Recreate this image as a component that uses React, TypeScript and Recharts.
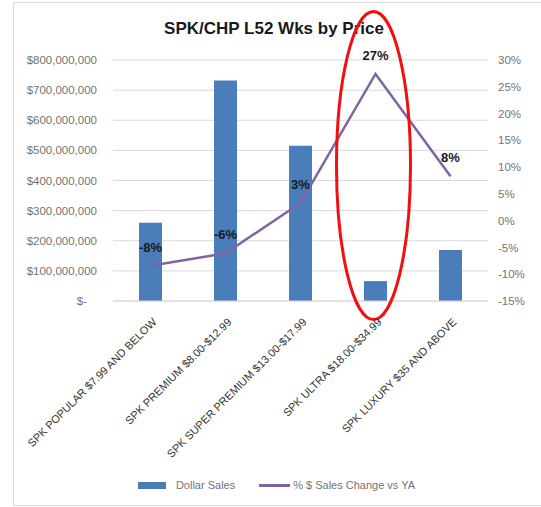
import React from "react";
import {
  ComposedChart,
  Bar,
  Line,
  XAxis,
  YAxis,
  CartesianGrid,
  Legend,
  LabelList,
  ReferenceDot,
} from "recharts";

const categories = [
  "SPK POPULAR $7.99 AND BELOW",
  "SPK PREMIUM $8.00-$12.99",
  "SPK SUPER PREMIUM $13.00-$17.99",
  "SPK ULTRA $18.00-$34.99",
  "SPK LUXURY $35 AND ABOVE",
];
const dollarSales = [260000000, 732000000, 515000000, 66000000, 169000000];
const pctChange = [-8.4, -6.1, 3.3, 27.4, 8.3];

const usdTicks = [0, 100000000, 200000000, 300000000, 400000000, 500000000, 600000000, 700000000, 800000000];
const pctTicks = [-15, -10, -5, 0, 5, 10, 15, 20, 25, 30];

// red highlight ellipse around the ultra segment
const highlightCategory = categories[3];
const highlightCenterPct = 10.3;

const data = categories.map((name, i) => ({
  name,
  sales: dollarSales[i],
  pct: pctChange[i],
}));

const FONT = "'Liberation Sans', Arial, sans-serif";
const BAR_COLOR = "#4a7ebb";
const LINE_COLOR = "#8064a2";
const TICK_GRAY = "#737373";

const formatUsd = (v: number) =>
  v === 0 ? "$-" : "$" + v.toLocaleString("en-US");

const LeftTick = ({ x, y, payload }: any) => (
  <text
    x={payload.value === 0 ? x - 10 : x}
    y={y}
    dy="0.35em"
    textAnchor="end"
    fontSize={11.5}
    fill={TICK_GRAY}
    fontFamily={FONT}
  >
    {formatUsd(payload.value)}
  </text>
);

const XTick = ({ x, y, payload }: any) => (
  <g transform={`translate(${x + 4},${y + 19}) rotate(-45)`}>
    <text
      x={0}
      y={0}
      dy="0.35em"
      textAnchor="end"
      fontSize={11}
      fill="#333333"
      fontFamily={FONT}
    >
      {payload.value}
    </text>
  </g>
);

const renderPctLabel = (props: any) => {
  const { x, y, value } = props;
  return (
    <text
      x={x}
      y={y - 14}
      textAnchor="middle"
      fontSize={13}
      fontWeight="bold"
      fill="#1a1a1a"
      fontFamily={FONT}
    >
      {Math.round(value)}%
    </text>
  );
};

const renderLegend = () => (
  <div
    style={{
      display: "flex",
      justifyContent: "center",
      alignItems: "center",
      paddingLeft: 12,
      height: 16,
      fontSize: 11,
      color: TICK_GRAY,
      fontFamily: FONT,
    }}
  >
    <span style={{ width: 28, height: 7, background: BAR_COLOR, marginRight: 10 }} />
    <span style={{ marginRight: 24 }}>Dollar Sales</span>
    <span style={{ width: 31, height: 3, background: LINE_COLOR, marginRight: 3 }} />
    <span>% $ Sales Change vs YA</span>
  </div>
);

export default function App() {
  return (
    <div
      style={{
        position: "absolute",
        left: 0,
        top: 0,
        width: 541,
        height: 507,
        overflow: "hidden",
        background: "#fff",
        fontFamily: FONT,
      }}
    >
      <div
        style={{
          position: "absolute",
          left: 13,
          top: 2,
          width: 560,
          height: 504,
          border: "1px solid #d9d9d9",
          boxSizing: "border-box",
        }}
      />
      <div
        style={{
          position: "absolute",
          left: 0,
          top: 19,
          width: 548,
          textAlign: "center",
          fontSize: 17,
          fontWeight: "bold",
          color: "#1a1a1a",
        }}
      >
        SPK/CHP L52 Wks by Price
      </div>
      <div style={{ position: "absolute", left: 0, top: 0 }}>
        <ComposedChart
          width={541}
          height={507}
          data={data}
          margin={{ top: 60, right: 0, bottom: 14, left: 0 }}
        >
          <CartesianGrid vertical={false} stroke="#d9d9d9" yAxisId="usd" />
          <XAxis
            dataKey="name"
            interval={0}
            tickLine={false}
            axisLine={{ stroke: "#d9d9d9" }}
            tickSize={0}
            tickMargin={0}
            height={176}
            tick={<XTick />}
          />
          <YAxis
            yAxisId="usd"
            orientation="left"
            domain={[0, 800000000]}
            ticks={usdTicks}
            width={113}
            axisLine={false}
            tickLine={false}
            tickSize={0}
            tickMargin={16}
            tick={<LeftTick />}
          />
          <YAxis
            yAxisId="pct"
            orientation="right"
            domain={[-15, 30]}
            ticks={pctTicks}
            width={53}
            axisLine={false}
            tickLine={false}
            tickSize={0}
            tickMargin={10}
            tickFormatter={(v: number) => `${v}%`}
            tick={{ fill: TICK_GRAY, fontSize: 11.5, fontFamily: FONT }}
          />
          <Legend verticalAlign="bottom" content={renderLegend} />
          <Bar
            yAxisId="usd"
            dataKey="sales"
            name="Dollar Sales"
            fill={BAR_COLOR}
            barSize={23}
            isAnimationActive={false}
          />
          <Line
            yAxisId="pct"
            dataKey="pct"
            name="% $ Sales Change vs YA"
            stroke={LINE_COLOR}
            strokeWidth={2.5}
            dot={false}
            isAnimationActive={false}
          >
            <LabelList dataKey="pct" content={renderPctLabel} />
          </Line>
          <ReferenceDot
            yAxisId="pct"
            x={highlightCategory}
            y={highlightCenterPct}
            ifOverflow="visible"
            shape={(p: any) => (
              <ellipse
                cx={p.cx - 2}
                cy={p.cy}
                rx={37}
                ry={154}
                fill="none"
                stroke="#f01010"
                strokeWidth={3}
              />
            )}
          />
        </ComposedChart>
      </div>
    </div>
  );
}
